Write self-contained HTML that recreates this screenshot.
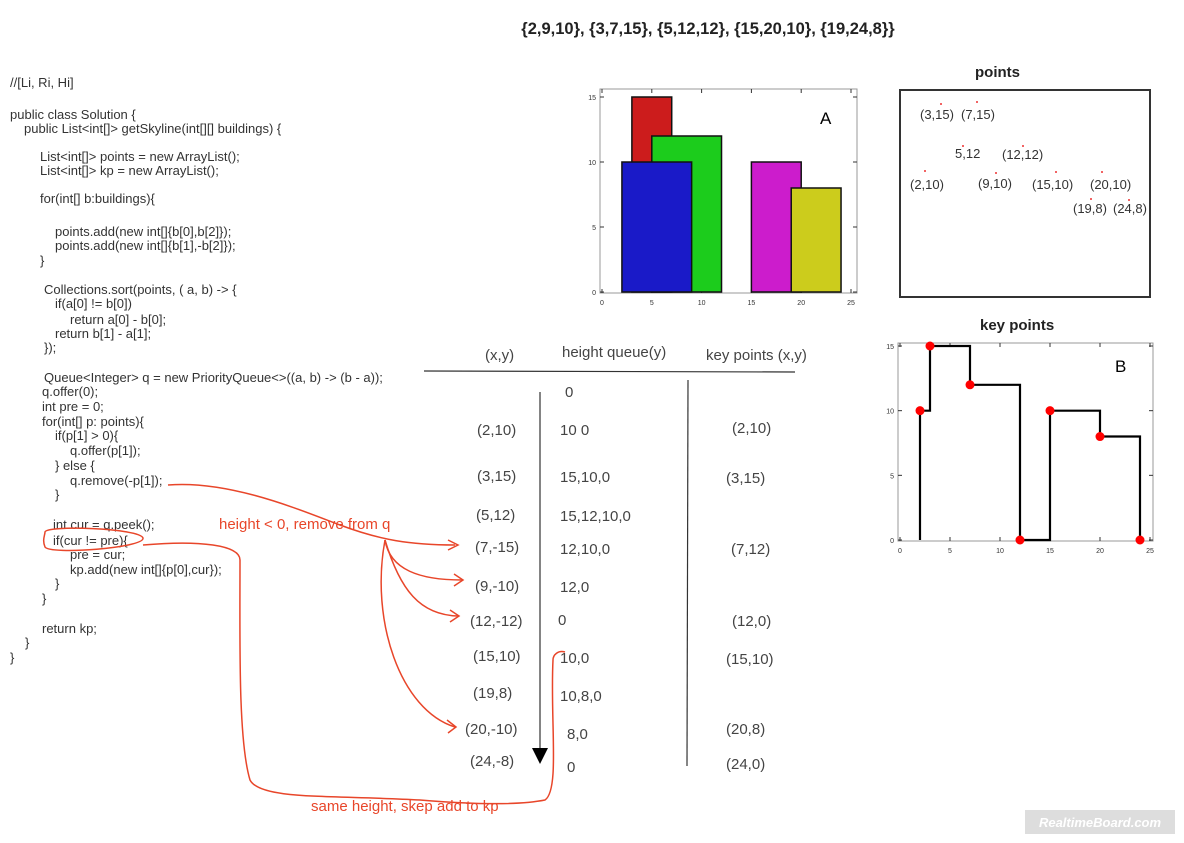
<!DOCTYPE html>
<html><head><meta charset="utf-8"><style>
html,body{margin:0;padding:0;background:#fff;}
svg{display:block;font-family:"Liberation Sans",Arial,sans-serif;}
.code text{font-size:13px;fill:#333;}
.tb text{font-size:15px;fill:#444;}
.ann{font-size:15px;fill:#e8462a;}
.pl{font-size:13px;fill:#333;}
</style></head><body>
<svg id="root" width="1184" height="843" viewBox="0 0 1184 843">
<text x="708" y="34" text-anchor="middle" font-size="16.5" font-weight="bold" fill="#222">{2,9,10}, {3,7,15}, {5,12,12}, {15,20,10}, {19,24,8}}</text>

<g class="code">
<text x="10" y="87">//[Li, Ri, Hi]</text>
<text x="10" y="119">public class Solution {</text>
<text x="24" y="133">public List&lt;int[]&gt; getSkyline(int[][] buildings) {</text>
<text x="40" y="161">List&lt;int[]&gt; points = new ArrayList();</text>
<text x="40" y="175">List&lt;int[]&gt; kp = new ArrayList();</text>
<text x="40" y="203">for(int[] b:buildings){</text>
<text x="55" y="236">points.add(new int[]{b[0],b[2]});</text>
<text x="55" y="250">points.add(new int[]{b[1],-b[2]});</text>
<text x="40" y="265">}</text>
<text x="44" y="294">Collections.sort(points, ( a, b) -&gt; {</text>
<text x="55" y="308">if(a[0] != b[0])</text>
<text x="70" y="324">return a[0] - b[0];</text>
<text x="55" y="338">return b[1] - a[1];</text>
<text x="44" y="352">});</text>
<text x="44" y="382">Queue&lt;Integer&gt; q = new PriorityQueue&lt;&gt;((a, b) -&gt; (b - a));</text>
<text x="42" y="396">q.offer(0);</text>
<text x="42" y="411">int pre = 0;</text>
<text x="42" y="426">for(int[] p: points){</text>
<text x="55" y="440">if(p[1] &gt; 0){</text>
<text x="70" y="455">q.offer(p[1]);</text>
<text x="55" y="470">} else {</text>
<text x="70" y="485">q.remove(-p[1]);</text>
<text x="55" y="499">}</text>
<text x="53" y="529">int cur = q.peek();</text>
<text x="53" y="545">if(cur != pre){</text>
<text x="70" y="559">pre = cur;</text>
<text x="70" y="574">kp.add(new int[]{p[0],cur});</text>
<text x="55" y="588">}</text>
<text x="42" y="603">}</text>
<text x="42" y="633">return kp;</text>
<text x="25" y="647">}</text>
<text x="10" y="662">}</text>
</g>

<g class="tb">
<text x="485" y="360">(x,y)</text>
<text x="562" y="357">height queue(y)</text>
<text x="706" y="360">key points (x,y)</text>
<line x1="424" y1="371" x2="795" y2="372" stroke="#333" stroke-width="1.2"/>
<line x1="540" y1="392" x2="540" y2="752" stroke="#333" stroke-width="1.2"/>
<polygon points="532,748 548,748 540,764" fill="#000"/>
<line x1="688" y1="380" x2="687" y2="766" stroke="#333" stroke-width="1.2"/>
<g>
<text x="477" y="435">(2,10)</text><text x="477" y="481">(3,15)</text><text x="476" y="520">(5,12)</text>
<text x="475" y="552">(7,-15)</text><text x="475" y="591">(9,-10)</text><text x="470" y="626">(12,-12)</text>
<text x="473" y="661">(15,10)</text><text x="473" y="698">(19,8)</text><text x="465" y="734">(20,-10)</text>
<text x="470" y="766">(24,-8)</text></g>
<g>
<text x="565" y="397">0</text><text x="560" y="435">10 0</text><text x="560" y="482">15,10,0</text>
<text x="560" y="521">15,12,10,0</text><text x="560" y="554">12,10,0</text><text x="560" y="592">12,0</text>
<text x="558" y="625">0</text><text x="560" y="663">10,0</text><text x="560" y="701">10,8,0</text>
<text x="567" y="739">8,0</text><text x="567" y="772">0</text></g>
<g>
<text x="732" y="433">(2,10)</text><text x="726" y="483">(3,15)</text><text x="731" y="554">(7,12)</text>
<text x="732" y="626">(12,0)</text><text x="726" y="664">(15,10)</text><text x="726" y="734">(20,8)</text>
<text x="726" y="769">(24,0)</text></g>
</g>

<g fill="none" stroke="#e8462a" stroke-width="1.5">
<text class="ann" x="219" y="529" stroke="none">height &lt; 0, remove from q</text>
<text class="ann" x="311" y="811" stroke="none">same height, skep add to kp</text>
<path d="M168,485 C230,480 300,510 340,525 C380,540 410,545 455,545"/>
<path d="M448,540 L458,545 L448,550"/>
<path d="M385,540 C390,570 420,580 462,580"/>
<path d="M454,574 L463,580 L454,586"/>
<path d="M385,540 C400,590 420,615 458,616"/>
<path d="M450,610 L459,616 L450,622"/>
<path d="M385,540 C370,620 400,710 455,727"/>
<path d="M447,720 L456,727 L448,733"/>
<path d="M45,532 C45,525 140,528 143,538 C145,548 50,555 45,547 C42,540 45,535 45,532"/>
<path d="M143,545 C200,540 240,545 240,560 C240,640 238,740 250,780 C260,800 330,795 420,800 C480,805 520,805 545,800 C560,790 550,720 553,660 C553,655 558,650 565,652"/>
</g>

<g id="chartA"></g>
<text x="975" y="77" font-size="15" font-weight="bold" fill="#222">points</text>
<rect x="900" y="90" width="250" height="207" fill="none" stroke="#333" stroke-width="2"/>
<g>
<text class="pl" x="920" y="119">(3,15)</text><text class="pl" x="961" y="119">(7,15)</text>
<text class="pl" x="955" y="158">5,12</text><text class="pl" x="1002" y="159">(12,12)</text>
<text class="pl" x="910" y="189">(2,10)</text><text class="pl" x="978" y="188">(9,10)</text>
<text class="pl" x="1032" y="189">(15,10)</text><text class="pl" x="1090" y="189">(20,10)</text>
<text class="pl" x="1073" y="213">(19,8)</text><text class="pl" x="1113" y="213">(24,8)</text>
<g fill="#e33"><circle cx="941" cy="104" r="1"/><circle cx="977" cy="102" r="1"/><circle cx="963" cy="146" r="1"/><circle cx="1023" cy="146" r="1"/><circle cx="925" cy="171" r="1"/><circle cx="996" cy="173" r="1"/><circle cx="1056" cy="172" r="1"/><circle cx="1102" cy="172" r="1"/><circle cx="1091" cy="199" r="1"/><circle cx="1129" cy="200" r="1"/></g>
</g>
<text x="980" y="330" font-size="15" font-weight="bold" fill="#222">key points</text>
<g id="chartB"></g>

<rect x="1025" y="810" width="150" height="24" fill="#ddd"/>
<text x="1100" y="827" text-anchor="middle" font-size="13" font-weight="bold" fill="#fff" font-style="italic">RealtimeBoard.com</text>
</svg>
<script>
const bLeft=[2,3,5,15,19];
const bRight=[9,7,12,20,24];
const bHeight=[10,15,12,10,8];
const bColor=['#1a1ac8','#cc1c1c','#1ccc1c','#cc1ccc','#cccc1c'];
const drawOrder=[1,2,0,3,4];
const kpX=[2,3,7,12,15,20,24];
const kpY=[10,15,12,0,10,8,0];
const xTicks=[0,5,10,15,20,25];
const yTicks=[0,5,10,15];
const NS='http://www.w3.org/2000/svg';
function mk(parent,tag,attrs){const e=document.createElementNS(NS,tag);for(const k in attrs)e.setAttribute(k,attrs[k]);parent.appendChild(e);return e;}
function axes(g,x0,x1,y0,y1,fl,ft,fr,fb,label,lx,ly){
  const sx=v=>x0+(x1-x0)*v/25, sy=v=>y0-(y0-y1)*v/15;
  const fr_=mk(g,'rect',{x:fl,y:ft,width:fr-fl,height:fb-ft,fill:'#fff',stroke:'#999','stroke-width':1});
  
  
  xTicks.forEach(t=>{
    mk(g,'line',{x1:sx(t),x2:sx(t),y1:fb,y2:fb-4,stroke:'#333'});
    mk(g,'line',{x1:sx(t),x2:sx(t),y1:ft,y2:ft+4,stroke:'#333'});
    const tx=mk(g,'text',{x:sx(t),y:fb+12,'text-anchor':'middle','font-size':7,fill:'#333'});
    tx.textContent=t;
    
    
  });
  yTicks.forEach(t=>{
    mk(g,'line',{x1:fl,x2:fl+4,y1:sy(t),y2:sy(t),stroke:'#333'});
    mk(g,'line',{x1:fr,x2:fr-4,y1:sy(t),y2:sy(t),stroke:'#333'});
    const ty=mk(g,'text',{x:fl-4,y:sy(t)+3,'text-anchor':'end','font-size':7,fill:'#333'});
    ty.textContent=t;
    
    
  });
  const L=mk(g,'text',{x:lx,y:ly,'font-size':17,fill:'#000'});
  L.textContent=label;
  
  
  return [sx,sy];
}
const gA=document.getElementById('chartA');
const [ax,ay]=axes(gA,602,851,292,97,600,89,857,293,'A',820,124);
drawOrder.forEach(i=>{
  const r=mk(gA,'rect',{x:ax(bLeft[i]),y:ay(bHeight[i]),width:ax(bRight[i])-ax(bLeft[i]),height:ay(0)-ay(bHeight[i]),fill:bColor[i],stroke:'#111','stroke-width':1.5});
  
  
});
const gB=document.getElementById('chartB');
const [bx,by]=axes(gB,900,1150,540,346,898,343,1153,541,'B',1115,372);
let d='M'+bx(kpX[0])+','+by(0);
let prevY=0;
kpX.forEach((x,i)=>{d+=' L'+bx(x)+','+by(prevY)+' L'+bx(x)+','+by(kpY[i]);prevY=kpY[i];});
const sk=mk(gB,'path',{d:d,fill:'none',stroke:'#000','stroke-width':2.2});


kpX.forEach((x,i)=>{
  const c=mk(gB,'circle',{cx:bx(x),cy:by(kpY[i]),r:4.5,fill:'#f00'});
  
  
});
</script>
</body></html>
